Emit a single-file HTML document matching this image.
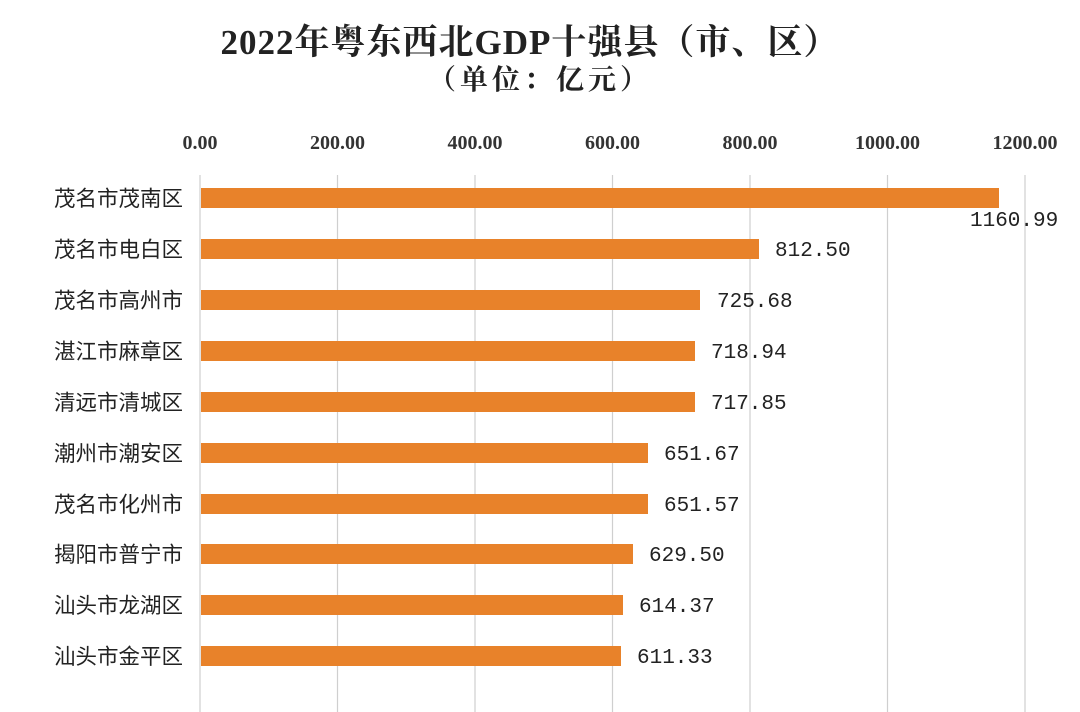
<!DOCTYPE html>
<html><head><meta charset="utf-8"><style>
body{margin:0;width:1080px;height:712px;background:#fff;overflow:hidden;position:relative;font-family:"Liberation Sans","Noto Sans CJK SC",sans-serif}
</style></head><body>
<svg width="1080" height="712" style="position:absolute;left:0;top:0">
<g stroke="#cfcfcf" stroke-width="1.2">
<line x1="200" y1="175" x2="200" y2="712"/><line x1="337.5" y1="175" x2="337.5" y2="712"/>
<line x1="475" y1="175" x2="475" y2="712"/><line x1="612.5" y1="175" x2="612.5" y2="712"/>
<line x1="750" y1="175" x2="750" y2="712"/><line x1="887.5" y1="175" x2="887.5" y2="712"/>
<line x1="1025" y1="175" x2="1025" y2="712"/>
</g>
<g fill="#E8822A">
<rect x="201" y="188" width="798" height="20"/>
<rect x="201" y="239" width="558" height="20"/>
<rect x="201" y="290" width="499" height="20"/>
<rect x="201" y="341" width="494" height="20"/>
<rect x="201" y="392" width="494" height="20"/>
<rect x="201" y="443" width="447" height="20"/>
<rect x="201" y="494" width="447" height="20"/>
<rect x="201" y="544" width="432" height="20"/>
<rect x="201" y="595" width="422" height="20"/>
<rect x="201" y="646" width="420" height="20"/>
</g>
<g font-family="Liberation Serif,serif" font-weight="bold" font-size="20" fill="#333" text-anchor="middle">
<text x="200" y="149">0.00</text><text x="337.5" y="149">200.00</text><text x="475" y="149">400.00</text>
<text x="612.5" y="149">600.00</text><text x="750" y="149">800.00</text><text x="887.5" y="149">1000.00</text><text x="1025" y="149">1200.00</text>
</g>
<g font-family="Liberation Serif,Noto Serif CJK SC,serif" font-weight="bold" fill="#222" text-anchor="middle">
<text x="530" y="54" font-size="35" letter-spacing="1">2022年粤东西北GDP十强县（市、区）</text>
<text x="540" y="89" font-size="28" letter-spacing="4">（单位：亿元）</text>
</g>
<g font-size="21.5" fill="#222" text-anchor="end" font-family="Liberation Sans,Noto Sans CJK SC,sans-serif">
<text x="183" y="206">茂名市茂南区</text><text x="183" y="257">茂名市电白区</text><text x="183" y="308">茂名市高州市</text>
<text x="183" y="359">湛江市麻章区</text><text x="183" y="410">清远市清城区</text><text x="183" y="461">潮州市潮安区</text>
<text x="183" y="512">茂名市化州市</text><text x="183" y="562">揭阳市普宁市</text><text x="183" y="613">汕头市龙湖区</text>
<text x="183" y="664">汕头市金平区</text>
</g>
<g font-size="21" fill="#222" font-family="Liberation Mono,monospace">
<text x="970" y="226">1160.99</text>
<text x="775" y="256">812.50</text><text x="717" y="307">725.68</text><text x="711" y="358">718.94</text>
<text x="711" y="409">717.85</text><text x="664" y="460">651.67</text><text x="664" y="511">651.57</text>
<text x="649" y="561">629.50</text><text x="639" y="612">614.37</text><text x="637" y="663">611.33</text>
</g>
</svg>
</body></html>
